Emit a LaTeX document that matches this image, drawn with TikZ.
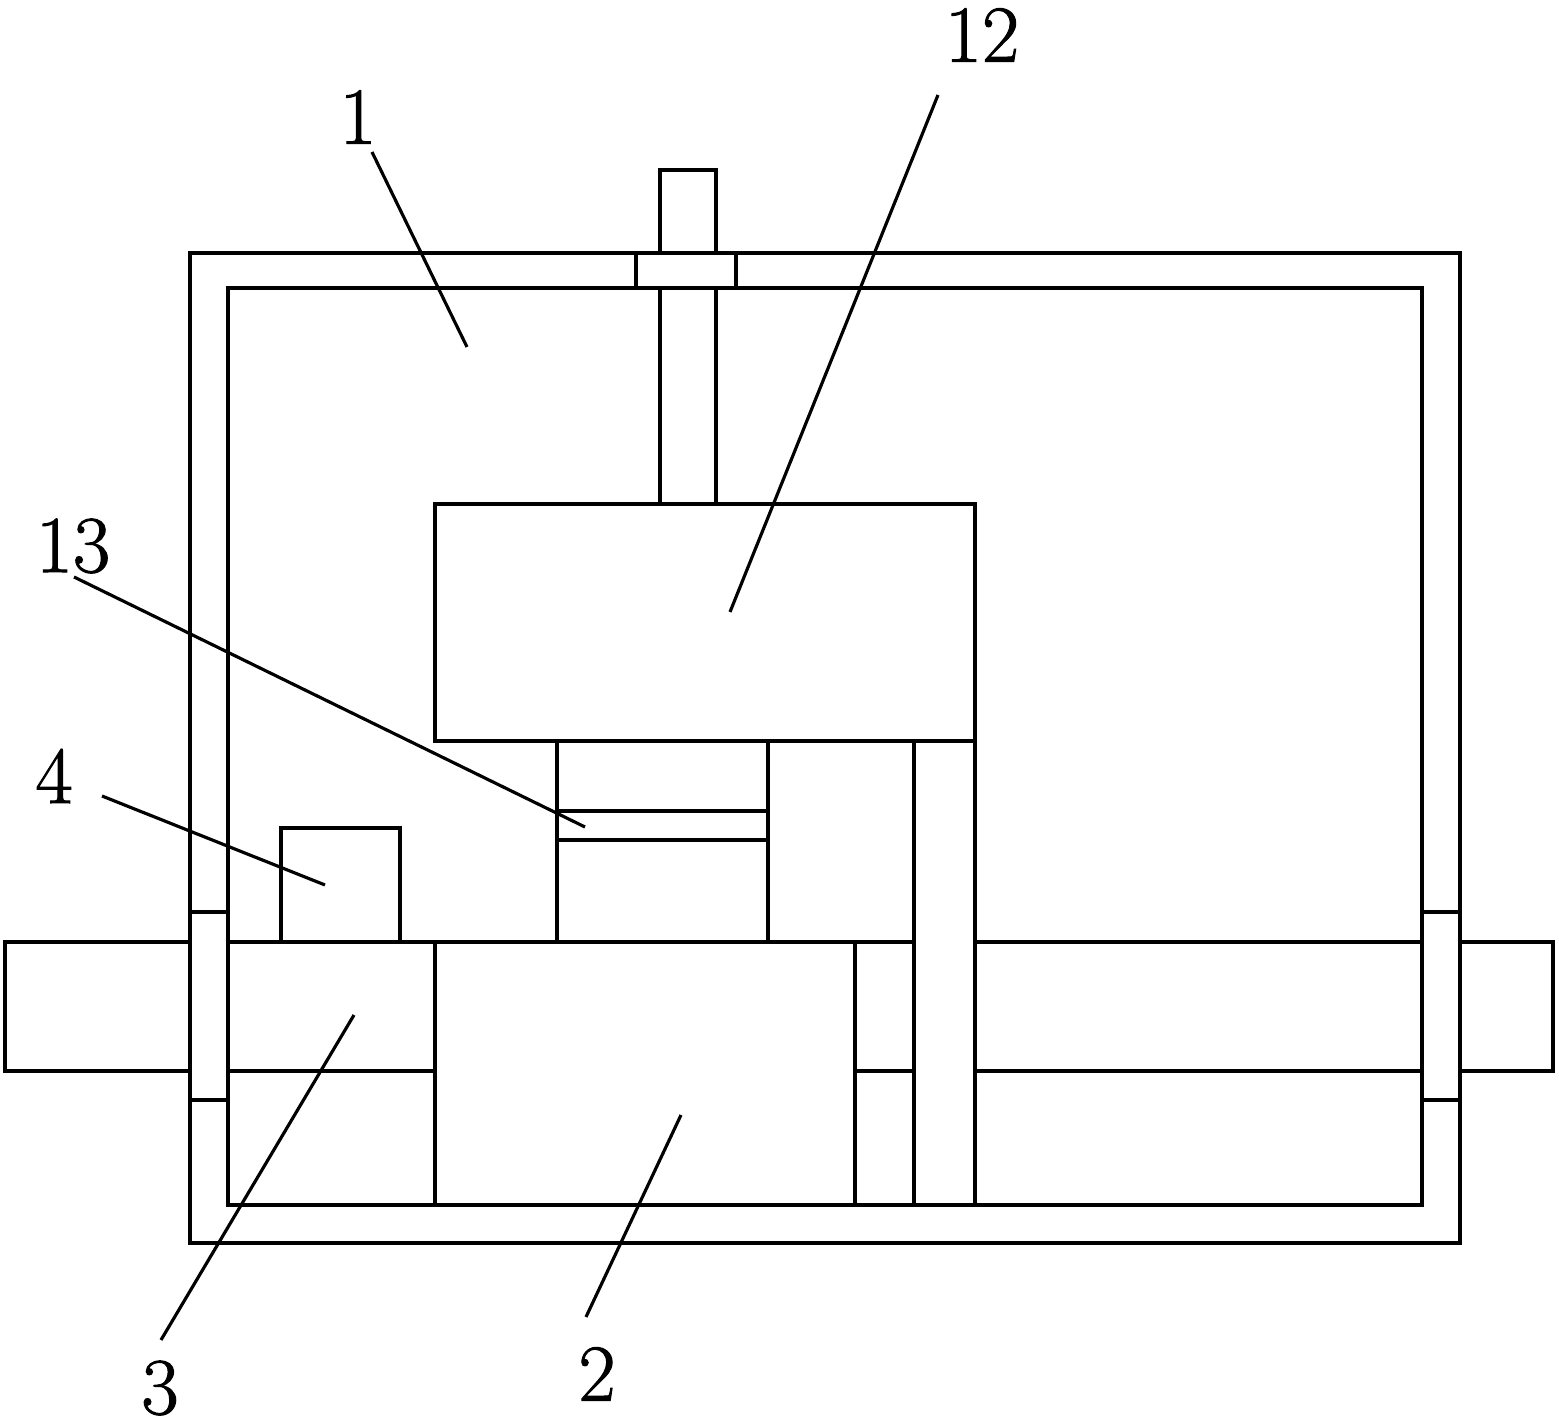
\documentclass[tikz,border=0pt]{standalone}
\usepackage{fontspec}
\newfontfamily\numfont{Latin Modern Roman}[FakeBold=1.2]
\tikzset{
	part/.style={line width=1.15pt,black},
	leader/.style={line width=0.9pt,black},
	num/.style={font=\numfont\fontsize{23}{23}\selectfont,inner sep=0pt}
}
\begin{document}
\begin{tikzpicture}[x=0.01cm,y=-0.01cm]
	\useasboundingbox (0,0) rectangle (1559,1425);
	% frame
	\draw[part] (190,253) rectangle (1460,1243);
	\draw[part] (228,288) rectangle (1422,1205);
	% screw and collar
	\draw[part] (660,253)--(660,170)--(716,170)--(716,253);
	\draw[part] (636,253) rectangle (736,288);
	\draw[part] (660,288)--(660,504);
	\draw[part] (716,288)--(716,504);
	% press block
	\draw[part] (435,504) rectangle (975,741);
	\draw[part] (557,741)--(557,942);
	\draw[part] (768,741)--(768,942);
	\draw[part] (557,811)--(768,811);
	\draw[part] (557,840)--(768,840);
	\draw[part] (914,741)--(914,1205);
	\draw[part] (975,741)--(975,1205);
	% box
	\draw[part] (281,942)--(281,828)--(400,828)--(400,942);
	% bed
	\draw[part] (435,942) rectangle (855,1205);
	\draw[part] (228,942)--(914,942);
	\draw[part] (975,942)--(1422,942);
	\draw[part] (228,1071)--(435,1071);
	\draw[part] (855,1071)--(914,1071);
	\draw[part] (975,1071)--(1422,1071);
	% ends
	\draw[part] (190,942)--(5,942)--(5,1071)--(190,1071);
	\draw[part] (1460,942)--(1553,942)--(1553,1071)--(1460,1071);
	\draw[part] (190,912)--(228,912);
	\draw[part] (190,1100)--(228,1100);
	\draw[part] (1422,912)--(1460,912);
	\draw[part] (1422,1100)--(1460,1100);
	% labels
	\node[num] (n1) at(358,117) {1};
	\node[num] (n12) at(982,35) {12};
	\node[num] (n13) at(73,546) {13};
	\node[num] (n4) at(54,776) {4};
	\node[num] (n3) at(160,1388) {3};
	\node[num] (n2) at(597,1374) {2};
	\coordinate (a1) at(372,152);
	\coordinate (b1) at(467,347);
	\coordinate (a12) at(938,95);
	\coordinate (b12) at(730,612);
	\coordinate (a13) at(74,577);
	\coordinate (b13) at(585,827);
	\coordinate (a4) at(102,796);
	\coordinate (b4) at(325,885);
	\coordinate (a3) at(161,1340);
	\coordinate (b3) at(354,1015);
	\coordinate (a2) at(586,1317);
	\coordinate (b2) at(681,1115);
	\draw[leader] (a1)--(b1);
	\draw[leader] (a12)--(b12);
	\draw[leader] (a13)--(b13);
	\draw[leader] (a4)--(b4);
	\draw[leader] (a3)--(b3);
	\draw[leader] (a2)--(b2);
\end{tikzpicture}
\end{document}
